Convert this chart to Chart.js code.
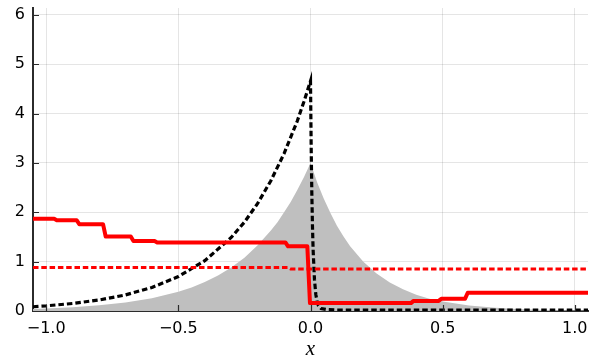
<!DOCTYPE html>
<html>
<head>
<meta charset="utf-8">
<script src="https://cdn.jsdelivr.net/npm/chart.js@4.4.1/dist/chart.umd.min.js"></script>
<style>
html,body{margin:0;padding:0;background:#fff;}
canvas{display:block;}
</style>
</head>
<body>
<canvas id="c" width="602" height="360"></canvas>
<script>
// ---- data ----
const xTicks = [-1.0, -0.5, 0.0, 0.5, 1.0];
const xTickLabels = ["\u22121.0", "\u22120.5", "0.0", "0.5", "1.0"];
const yTicks = [0, 1, 2, 3, 4, 5, 6];
const yTickLabels = ["0", "1", "2", "3", "4", "5", "6"];

const grayX = [-1.05,-1.0,-0.9,-0.8,-0.7,-0.6,-0.5,-0.45,-0.4,-0.35,-0.3,-0.25,-0.2,-0.15,-0.125,-0.1,-0.075,-0.05,-0.025,0,0.025,0.05,0.075,0.1,0.125,0.15,0.2,0.25,0.3,0.35,0.4,0.45,0.5,0.6,0.7,0.8,0.9,1.0,1.05];
const grayY = [0.041,0.051,0.076,0.115,0.172,0.259,0.39,0.478,0.587,0.72,0.882,1.08,1.33,1.63,1.80,2.0,2.21,2.45,2.71,3.0,2.61,2.28,1.99,1.73,1.51,1.31,1.0,0.76,0.58,0.44,0.33,0.25,0.19,0.11,0.064,0.037,0.021,0.012,0.009];

const blackX = [-1.05,-1.0,-0.9,-0.8,-0.7,-0.6,-0.5,-0.4,-0.3,-0.25,-0.2,-0.15,-0.1,-0.05,-0.025,0,0.0025,0.005,0.0075,0.01,0.015,0.02,0.025,0.03,0.04,0.06,0.1,0.3,0.5,0.7,0.9,1.05];
const blackY = [0.086,0.104,0.153,0.223,0.326,0.477,0.697,1.02,1.49,1.80,2.18,2.64,3.19,3.85,4.24,4.66,3.35,2.39,1.71,1.23,0.64,0.34,0.19,0.11,0.05,0.03,0.02,0.02,0.02,0.02,0.02,0.02];

const redX = [-1.05,-0.97,-0.96,-0.885,-0.875,-0.785,-0.775,-0.68,-0.67,-0.59,-0.58,-0.095,-0.085,-0.012,-0.002,0.38,0.39,0.485,0.495,0.585,0.595,1.05];
const redY = [1.87,1.87,1.84,1.84,1.76,1.76,1.51,1.51,1.42,1.42,1.39,1.39,1.31,1.31,0.16,0.16,0.205,0.205,0.25,0.25,0.37,0.37];

const redDotX = [-1.05,-0.085,-0.075,1.05];
const redDotY = [0.88,0.88,0.85,0.85];

const pts = (xs, ys) => xs.map((x, i) => ({x: x, y: ys[i]}));

const axisColor = '#2b2b2b';
const tickFont = {family: 'DejaVu Sans', size: 16};

const innerTicks = {
  id: 'innerTicks',
  afterDatasetsDraw(chart) {
    const ctx = chart.ctx, a = chart.chartArea;
    const xs = chart.scales.x, ys = chart.scales.y;
    ctx.save();
    ctx.strokeStyle = axisColor;
    ctx.lineWidth = 1.2;
    ctx.beginPath();
    xTicks.forEach(v => {
      const p = Math.round(xs.getPixelForValue(v)) + 0.5;
      ctx.moveTo(p, a.bottom);
      ctx.lineTo(p, a.bottom - 6);
    });
    yTicks.forEach(v => {
      const p = Math.round(ys.getPixelForValue(v)) + 0.5;
      ctx.moveTo(a.left, p);
      ctx.lineTo(a.left + 6, p);
    });
    ctx.stroke();
    ctx.restore();
  }
};

new Chart(document.getElementById('c'), {
  type: 'line',
  data: {
    datasets: [
      {label: 'red dotted', data: pts(redDotX, redDotY), borderColor: '#ff0000', borderWidth: 3,
       borderDash: [5.5, 2.8], borderCapStyle: 'butt', pointRadius: 0, fill: false},
      {label: 'red', data: pts(redX, redY), borderColor: '#ff0000', borderWidth: 4,
       borderJoinStyle: 'round', pointRadius: 0, fill: false},
      {label: 'black dotted', data: pts(blackX, blackY), borderColor: '#000000', borderWidth: 3.2,
       borderDash: [5.5, 3], borderCapStyle: 'butt', pointRadius: 0, fill: false},
      {label: 'gray', data: pts(grayX, grayY), borderColor: 'rgba(0,0,0,0)', borderWidth: 0,
       backgroundColor: '#bfbfbf', pointRadius: 0, fill: 'origin'}
    ]
  },
  options: {
    responsive: false,
    animation: false,
    devicePixelRatio: 1,
    layout: {padding: {top: 8, right: 14, left: 0, bottom: 0}},
    plugins: {legend: {display: false}, tooltip: {enabled: false}},
    elements: {line: {tension: 0}},
    scales: {
      x: {
        type: 'linear',
        min: -1.05, max: 1.05,
        afterFit(s) { s.height = 49; s.paddingLeft = 0; s.paddingRight = 0; },
        afterBuildTicks(s) { s.ticks = xTicks.map(v => ({value: v})); },
        ticks: {
          font: tickFont, color: '#000', padding: 8, maxRotation: 0,
          callback: (v) => xTickLabels[xTicks.indexOf(v)]
        },
        grid: {color: 'rgba(0,0,0,0.1)', lineWidth: 1, drawTicks: false},
        border: {display: true, color: axisColor, width: 2},
        title: {display: true, text: 'x', color: '#000',
                font: {family: 'Liberation Serif', style: 'italic', size: 21},
                padding: {top: 0, bottom: -2}}
      },
      y: {
        type: 'linear',
        min: 0, max: 6.14,
        afterFit(s) { s.width = 33; s.paddingTop = 0; s.paddingBottom = 0; },
        afterBuildTicks(s) { s.ticks = yTicks.map(v => ({value: v})); },
        ticks: {
          font: tickFont, color: '#000', padding: 8,
          callback: (v) => yTickLabels[yTicks.indexOf(v)]
        },
        grid: {color: 'rgba(0,0,0,0.1)', lineWidth: 1, drawTicks: false},
        border: {display: true, color: axisColor, width: 2}
      }
    }
  },
  plugins: [innerTicks]
});
</script>
</body>
</html>
